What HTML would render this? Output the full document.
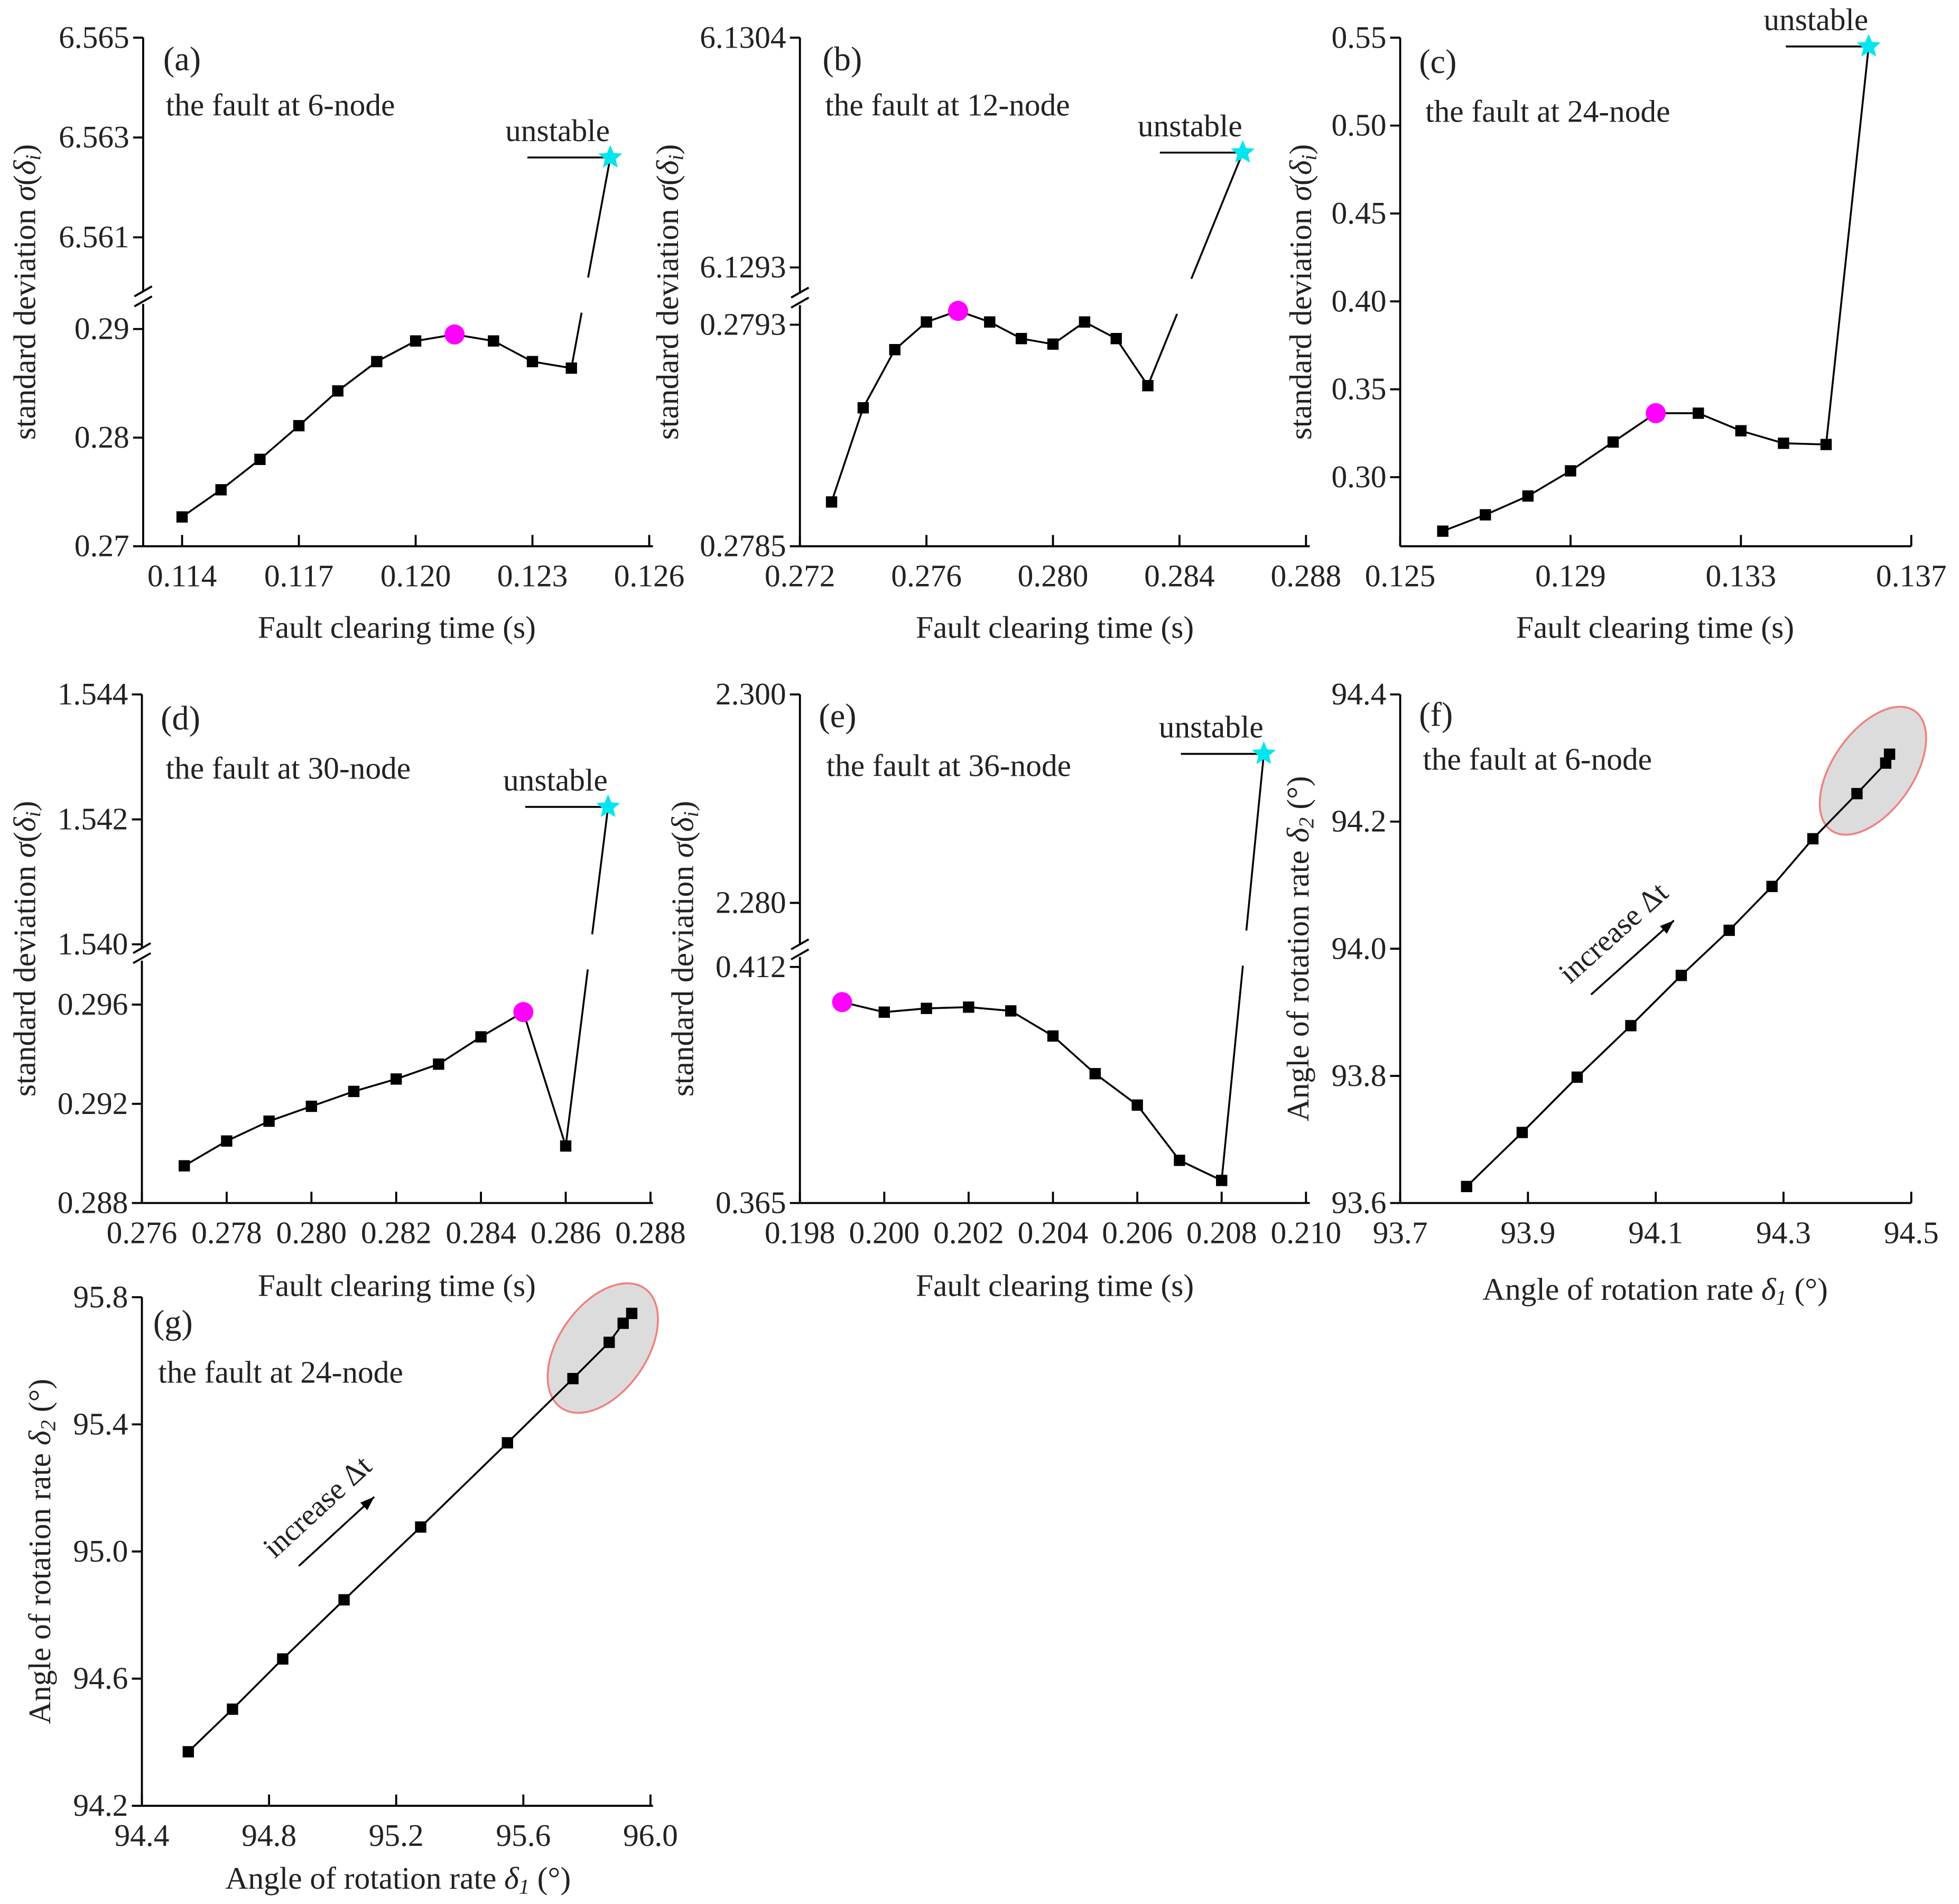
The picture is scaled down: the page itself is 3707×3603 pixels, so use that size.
<!DOCTYPE html>
<html><head><meta charset="utf-8"><style>
html,body{margin:0;padding:0;background:#fff}
svg{display:block}
text{font-family:"Liberation Serif",serif;fill:#222}
</style></head><body>
<svg id="fig" xmlns="http://www.w3.org/2000/svg" width="3707" height="3603" viewBox="0 0 1560 1516.2" preserveAspectRatio="none"></svg>
<script>
// ---- data ----
const aX=[0.114,0.115,0.116,0.117,0.118,0.119,0.120,0.121,0.122,0.123,0.124];
const aY=[0.2727,0.2752,0.2780,0.2811,0.2843,0.2870,0.2889,0.2895,0.2889,0.2870,0.2864];
const aStar=[0.125,6.5626];
const bX=[0.273,0.274,0.275,0.276,0.277,0.278,0.279,0.280,0.281,0.282,0.283];
const bY=[0.27866,0.27900,0.27921,0.27931,0.27935,0.27931,0.27925,0.27923,0.27931,0.27925,0.27908];
const bStar=[0.286,6.12985];
const cX=[0.126,0.127,0.128,0.129,0.130,0.131,0.132,0.133,0.134,0.135];
const cY=[0.2693,0.2786,0.2893,0.3036,0.3200,0.3364,0.3364,0.3264,0.3193,0.3186];
const cStar=[0.136,0.545];
const dX=[0.277,0.278,0.279,0.280,0.281,0.282,0.283,0.284,0.285,0.286];
const dY=[0.2895,0.2905,0.2913,0.2919,0.2925,0.2930,0.2936,0.2947,0.2957,0.2903];
const dStar=[0.287,1.5422];
const eX=[0.199,0.200,0.201,0.202,0.203,0.204,0.205,0.206,0.207,0.208];
const eY=[0.4050,0.4030,0.40375,0.4040,0.40325,0.39825,0.39075,0.3845,0.3735,0.3695];
const eStar=[0.209,2.2943];
const fX=[93.804,93.891,93.977,94.061,94.140,94.215,94.282,94.346,94.415,94.460,94.466];
const fY=[93.626,93.711,93.798,93.879,93.958,94.029,94.098,94.173,94.244,94.292,94.306];
const gX=[94.546,94.685,94.843,95.036,95.277,95.550,95.756,95.870,95.914,95.941];
const gY=[94.370,94.504,94.662,94.848,95.077,95.342,95.544,95.658,95.718,95.749];
const aXt=["0.114","0.117","0.120","0.123","0.126"];
const bXt=["0.272","0.276","0.280","0.284","0.288"];
const cXt=["0.125","0.129","0.133","0.137"];
const dXt=["0.276","0.278","0.280","0.282","0.284","0.286","0.288"];
const eXt=["0.198","0.200","0.202","0.204","0.206","0.208","0.210"];
const fXt=["93.7","93.9","94.1","94.3","94.5"];
const gXt=["94.4","94.8","95.2","95.6","96.0"];
const aYt=[["0.27",0.27],["0.28",0.28],["0.29",0.29],["6.561",6.561],["6.563",6.563],["6.565",6.565]];
const bYt=[["0.2785",0.2785],["0.2793",0.2793],["6.1293",6.1293],["6.1304",6.1304]];
const cYt=[["0.30",0.30],["0.35",0.35],["0.40",0.40],["0.45",0.45],["0.50",0.50],["0.55",0.55]];
const dYt=[["0.288",0.288],["0.292",0.292],["0.296",0.296],["1.540",1.540],["1.542",1.542],["1.544",1.544]];
const eYt=[["0.365",0.365],["0.412",0.412],["2.280",2.280],["2.300",2.300]];
const fYt=[["93.6",93.6],["93.8",93.8],["94.0",94.0],["94.2",94.2],["94.4",94.4]];
const gYt=[["94.2",94.2],["94.6",94.6],["95.0",95.0],["95.4",95.4],["95.8",95.8]];

const NS="http://www.w3.org/2000/svg";
const svg=document.getElementById('fig');
const FS=25;
function mk(tag,attrs,parent){const e=document.createElementNS(NS,tag);for(const k in attrs)e.setAttribute(k,attrs[k]);(parent||svg).appendChild(e);return e;}
function txt(s,x,y,size,anchor,parent,extra){const t=mk('text',Object.assign({x:x,y:y,'font-size':size,'text-anchor':anchor||'start'},extra||{}),parent);t.innerHTML=s;return t;}

function panel(cfg){
  const g=mk('g',{});
  
  
  const L=cfg.L,R=cfg.R,T=cfg.T,B=cfg.B;
  const sx=v=>cfg.px0+(v-cfg.x0)*(cfg.px1-cfg.px0)/(cfg.x1-cfg.x0);
  const sy=v=>{for(const s of cfg.seg){if(v>=s.lo&&v<=s.hi)return s.p0+(v-s.d0)*(s.p1-s.p0)/(s.d1-s.d0);}const s=cfg.seg[0];return s.p0+(v-s.d0)*(s.p1-s.p0)/(s.d1-s.d0);};
  const ax=mk('g',{stroke:'#000','stroke-width':1.6,fill:'none'},g);
  
  
  mk('line',{x1:L,y1:B,x2:R,y2:B},ax);
  if(cfg.brk){
    mk('line',{x1:L,y1:B,x2:L,y2:cfg.brk+5},ax);
    mk('line',{x1:L,y1:cfg.brk-5,x2:L,y2:T},ax);
    mk('line',{x1:L-7,y1:cfg.brk-1,x2:L+7,y2:cfg.brk-9},ax);
    mk('line',{x1:L-7,y1:cfg.brk+7,x2:L+7,y2:cfg.brk-1},ax);
  } else mk('line',{x1:L,y1:B,x2:L,y2:T},ax);
  cfg.xt.forEach(s=>{const v=parseFloat(s),x=sx(v);
    mk('line',{x1:x,y1:B,x2:x,y2:B-9},ax);
    const t=txt(s,x,B+32,FS,'middle',g);
    
    });
  cfg.yt.forEach(p=>{const y=sy(p[1]);
    mk('line',{x1:L,y1:y,x2:L-8,y2:y},ax);
    const t=txt(p[0],L-11,y+8,FS,'end',g);
    
    });
  const xt=txt(cfg.xtitle,cfg.xtx,cfg.xty,FS,'middle',g);
  
  
  const yt=txt(cfg.ytitle,0,0,FS,'middle',g,{transform:`translate(${cfg.ytx},${(T+B)/2}) rotate(-90)`});
  
  
  const lb=txt(cfg.label[0],cfg.label[1],cfg.label[2],27,'start',g);
  
  
  const sub=txt(cfg.sub[0],cfg.sub[1],cfg.sub[2],FS,'start',g);
  
  
  if(cfg.ell){const e=mk('ellipse',{cx:sx(cfg.ell[0]),cy:sy(cfg.ell[1]),rx:cfg.ell[2],ry:cfg.ell[3],transform:`rotate(35 ${sx(cfg.ell[0])} ${sy(cfg.ell[1])})`,fill:'#dcdcdc',stroke:'#f08080','stroke-width':1.5},g);
    
    }
  const xs=cfg.X,ys=cfg.Y;
  const pts=xs.map((v,i)=>sx(v)+','+sy(ys[i])).join(' ');
  const pl=mk('polyline',{points:pts,fill:'none',stroke:'#000','stroke-width':1.5},g);
  
  
  let maxI=-1;
  if(cfg.star){
    const lx=sx(xs[xs.length-1]),ly=sy(ys[ys.length-1]),txs=sx(cfg.star[0]),tys=sy(cfg.star[1]);
    if(cfg.brk){
      const a1=cfg.brk+12,a2=cfg.brk-16;
      const f1=(a1-ly)/(tys-ly),f2=(a2-ly)/(tys-ly);
      const s1=mk('line',{x1:lx,y1:ly,x2:lx+(txs-lx)*f1,y2:a1,stroke:'#000','stroke-width':1.5},g);
      
      
      const s2=mk('line',{x1:lx+(txs-lx)*f2,y1:a2,x2:txs,y2:tys,stroke:'#000','stroke-width':1.5},g);
      
      
    } else {
      const s=mk('line',{x1:lx,y1:ly,x2:txs,y2:tys,stroke:'#000','stroke-width':1.5},g);
      
      
    }
    maxI=ys.indexOf(Math.max(...ys));
  }
  xs.forEach((v,i)=>{
    if(i===maxI){const c=mk('circle',{cx:sx(v),cy:sy(ys[i]),r:8,fill:'#ff00ff'},g);
      
      }
    else{const r=mk('rect',{x:sx(v)-4.5,y:sy(ys[i])-4.5,width:9,height:9,fill:'#000'},g);
      
      }
  });
  if(cfg.star){
    const cx=sx(cfg.star[0]),cy=sy(cfg.star[1]);let p=[];
    for(let k=0;k<10;k++){const rr=k%2?4.5:10,an=-Math.PI/2+k*Math.PI/5;p.push((cx+rr*Math.cos(an)).toFixed(1)+','+(cy+rr*Math.sin(an)).toFixed(1));}
    const ln=mk('line',{x1:cx-66,y1:cy,x2:cx,y2:cy,stroke:'#000','stroke-width':1.5},g);
    
    
    const st=mk('polygon',{points:p.join(' '),fill:'#00e5ee'},g);
    
    
    const ut=txt('unstable',cx-42,cy-13,FS,'middle',g);
    
    
  }
  if(cfg.arrow){const A=cfg.arrow;
    const ar=mk('g',{},g);
    
    
    mk('line',{x1:A[0],y1:A[1],x2:A[2],y2:A[3],stroke:'#000','stroke-width':1.5},ar);
    const ang=Math.atan2(A[3]-A[1],A[2]-A[0]);
    const hx=A[2],hy=A[3],q=12;
    mk('polygon',{points:`${hx},${hy} ${hx-q*Math.cos(ang-0.35)},${hy-q*Math.sin(ang-0.35)} ${hx-q*Math.cos(ang+0.35)},${hy-q*Math.sin(ang+0.35)}`,fill:'#000'},ar);
    const at=txt('increase Δt',0,0,24,'middle',ar,{transform:`translate(${(A[0]+A[2])/2-10},${(A[1]+A[3])/2-14}) rotate(${ang*180/Math.PI})`});
    
    
  }
}
const SD='standard deviation <tspan font-style="italic">σ</tspan>(<tspan font-style="italic">δ<tspan font-size="17" dy="4">i</tspan></tspan><tspan dy="-4">)</tspan>';
const FCT='Fault clearing time (s)';
const A1='Angle of rotation rate <tspan font-style="italic">δ<tspan font-size="17" dy="4">1</tspan></tspan><tspan dy="-4"> (°)</tspan>';
const A2='Angle of rotation rate <tspan font-style="italic">δ<tspan font-size="17" dy="4">2</tspan></tspan><tspan dy="-4"> (°)</tspan>';

panel({name:'panel-a',L:114,R:520,T:30,B:435,x0:0.114,x1:0.126,px0:145,px1:517,X:aX,Y:aY,star:aStar,brk:237,
  seg:[{lo:0,hi:1,d0:0.27,d1:0.29,p0:435,p1:262},{lo:1,hi:99,d0:6.561,d1:6.565,p0:189,p1:30}],
  xt:aXt,yt:aYt,xtitle:FCT,xtx:316,xty:508,ytitle:SD,ytx:28,label:['(a)',130,56],sub:['the fault at 6-node',132,92]});
panel({name:'panel-b',L:637,R:1043,T:30,B:435,x0:0.272,x1:0.288,px0:637,px1:1040,X:bX,Y:bY,star:bStar,brk:238,
  seg:[{lo:0,hi:1,d0:0.2785,d1:0.2793,p0:435,p1:258.6},{lo:1,hi:99,d0:6.1293,d1:6.1304,p0:213,p1:30}],
  xt:bXt,yt:bYt,xtitle:FCT,xtx:840,xty:508,ytitle:SD,ytx:540,label:['(b)',655,56],sub:['the fault at 12-node',657,92]});
panel({name:'panel-c',L:1115,R:1522,T:30,B:435,x0:0.125,x1:0.137,px0:1115,px1:1522,X:cX,Y:cY,star:cStar,
  seg:[{lo:0,hi:99,d0:0.30,d1:0.55,p0:380,p1:30}],
  xt:cXt,yt:cYt,xtitle:FCT,xtx:1318,xty:508,ytitle:SD,ytx:1044,label:['(c)',1130,58],sub:['the fault at 24-node',1135,97]});
panel({name:'panel-d',L:113,R:520,T:553,B:958,x0:0.276,x1:0.288,px0:113,px1:518,X:dX,Y:dY,star:dStar,brk:760,
  seg:[{lo:0,hi:1,d0:0.288,d1:0.296,p0:958,p1:800},{lo:1,hi:99,d0:1.540,d1:1.544,p0:752,p1:553}],
  xt:dXt,yt:dYt,xtitle:FCT,xtx:316,xty:1032,ytitle:SD,ytx:28,label:['(d)',128,581],sub:['the fault at 30-node',132,620]});
panel({name:'panel-e',L:637,R:1043,T:553,B:958,x0:0.198,x1:0.210,px0:637,px1:1040,X:eX,Y:eY,star:eStar,brk:757,
  seg:[{lo:0,hi:1,d0:0.365,d1:0.412,p0:958,p1:770},{lo:1,hi:99,d0:2.280,d1:2.300,p0:719,p1:553}],
  xt:eXt,yt:eYt,xtitle:FCT,xtx:840,xty:1032,ytitle:SD,ytx:552,label:['(e)',652,579],sub:['the fault at 36-node',658,618]});
panel({name:'panel-f',L:1115,R:1522,T:553,B:958,x0:93.7,x1:94.5,px0:1115,px1:1522,X:fX,Y:fY,
  seg:[{lo:0,hi:999,d0:93.6,d1:94.4,p0:958,p1:553}],ell:[94.44,94.28,32,58],arrow:[1267,792,1333,733],
  xt:fXt,yt:fYt,xtitle:A1,xtx:1318,xty:1035,ytitle:A2,ytx:1042,label:['(f)',1130,578],sub:['the fault at 6-node',1133,613]});
panel({name:'panel-g',L:113,R:520,T:1033,B:1438,x0:94.4,x1:96.0,px0:113,px1:518,X:gX,Y:gY,
  seg:[{lo:0,hi:999,d0:94.2,d1:95.8,p0:1438,p1:1033}],ell:[95.85,95.64,35,58],arrow:[238,1247,298,1192],
  xt:gXt,yt:gYt,xtitle:A1,xtx:317,xty:1504,ytitle:A2,ytx:40,label:['(g)',122,1062],sub:['the fault at 24-node',126,1101]});
</script>
</body></html>
